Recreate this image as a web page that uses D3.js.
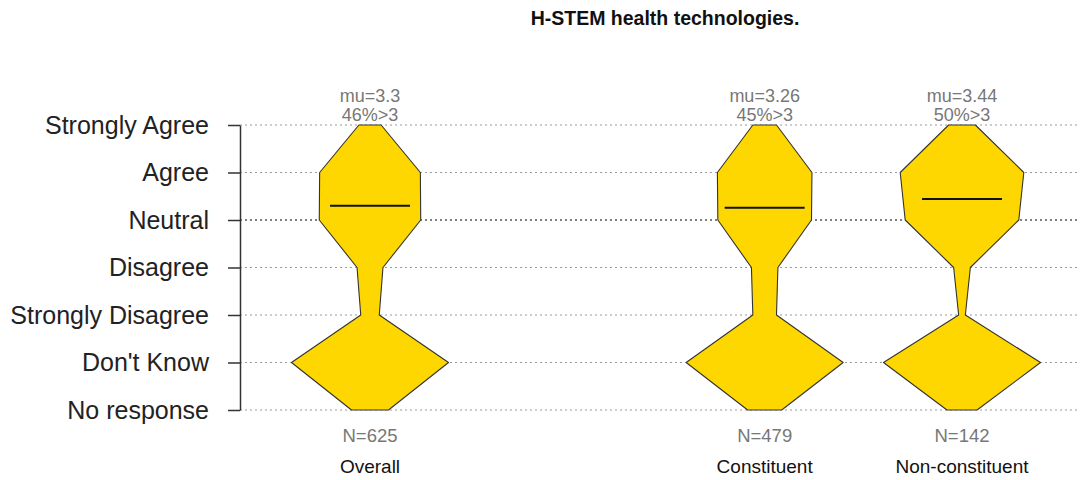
<!DOCTYPE html>
<html>
<head>
<meta charset="utf-8">
<script src="https://cdn.jsdelivr.net/npm/d3@7"></script>
<style>
  body { margin: 0; background: #fff; }
  svg text { font-family: "Liberation Sans", Arial, sans-serif; }
</style>
</head>
<body>
<div id="chart"></div>
<script>
// answer levels, top to bottom, with the numeric code used on the y scale
var levels = ["Strongly Agree", "Agree", "Neutral", "Disagree", "Strongly Disagree", "Don't Know", "No response"];
var levelCodes = [5, 4, 3, 2, 1, 0, -1];

// groups (an empty slot sits between Overall and Constituent)
var slots = ["Overall", "", "Constituent", "Non-constituent"];
var groups = ["Overall", "Constituent", "Non-constituent"];

// response counts per group, in the order of levels
var countsOverall = [30, 136, 137, 35, 25, 212, 50];
var countsConstituent = [25, 100, 99, 28, 25, 166, 36];
var countsNonConstituent = [8, 37, 34, 5, 2, 47, 9];

var means = [3.3, 3.26, 3.44];
var pctAbove = ["46%", "45%", "50%"];
var totals = [625, 479, 142];

var allCounts = [countsOverall, countsConstituent, countsNonConstituent];

var width = 1082, height = 480;

var svg = d3.select("#chart").append("svg")
    .attr("width", width)
    .attr("height", height);

// Scales
var y = d3.scaleLinear()
    .domain([-1, 5])
    .range([410, 125]);

var x = d3.scalePoint()
    .domain(slots)
    .range([370, 962]);

// Title
svg.append("text")
    .attr("x", 665)
    .attr("y", 25)
    .attr("text-anchor", "middle")
    .style("font-weight", "bold")
    .style("font-size", "19.5px")
    .attr("fill", "#111")
    .text("H-STEM health technologies.");

// Dotted grid lines
svg.append("g")
    .selectAll("line")
    .data(levelCodes)
    .enter().append("line")
    .attr("x1", 240)
    .attr("x2", 1080)
    .attr("y1", function (d) { return y(d); })
    .attr("y2", function (d) { return y(d); })
    .attr("stroke", function (d) { return d === 3 ? "#555" : "#999"; })
    .attr("stroke-width", function (d) { return d === 3 ? 1.6 : 1.1; })
    .attr("stroke-dasharray", "2,3");

// Y axis
var yAxis = svg.append("g")
    .attr("transform", "translate(240,0)")
    .call(d3.axisLeft(y)
        .tickValues(levelCodes)
        .tickSize(12)
        .tickSizeOuter(0)
        .tickPadding(19)
        .tickFormat(function (d, i) { return levels[i]; }));

yAxis.select(".domain").attr("stroke", "#333").attr("stroke-width", 1.5);
yAxis.selectAll(".tick line").attr("stroke", "#333").attr("stroke-width", 1.5);
yAxis.selectAll(".tick text")
    .style("font-size", "25px")
    .attr("fill", "#222");

// Violins
var line = d3.line();

groups.forEach(function (g, gi) {
    var counts = allCounts[gi];
    var cx = x(g);
    var w = d3.scaleLinear()
        .domain([0, d3.max(counts)])
        .range([0, 78.5]);

    // right side bottom -> top, left side top -> bottom
    var pts = [];
    for (var i = levels.length - 1; i >= 0; i--) {
        pts.push([cx + w(counts[i]), y(levelCodes[i])]);
    }
    for (var j = 0; j < levels.length; j++) {
        pts.push([cx - w(counts[j]), y(levelCodes[j])]);
    }

    svg.append("path")
        .attr("d", line(pts) + "Z")
        .attr("fill", "#FFD700")
        .attr("stroke", "#333")
        .attr("stroke-width", 1.1)
        .attr("stroke-linejoin", "round");

    // mean line
    svg.append("line")
        .attr("x1", cx - 40)
        .attr("x2", cx + 40)
        .attr("y1", y(means[gi]))
        .attr("y2", y(means[gi]))
        .attr("stroke", "#111")
        .attr("stroke-width", 2);

    // annotations above
    svg.append("text")
        .attr("x", cx)
        .attr("y", 102)
        .attr("text-anchor", "middle")
        .style("font-size", "18px")
        .attr("fill", "#777")
        .text("mu=" + means[gi]);

    svg.append("text")
        .attr("x", cx)
        .attr("y", 121)
        .attr("text-anchor", "middle")
        .style("font-size", "18px")
        .attr("fill", "#777")
        .text(pctAbove[gi] + ">3");

    // N and group label below
    svg.append("text")
        .attr("x", cx)
        .attr("y", 442)
        .attr("text-anchor", "middle")
        .style("font-size", "18.5px")
        .attr("fill", "#777")
        .text("N=" + totals[gi]);

    svg.append("text")
        .attr("x", cx)
        .attr("y", 473)
        .attr("text-anchor", "middle")
        .style("font-size", "19px")
        .attr("fill", "#111")
        .text(g);
});
</script>
</body>
</html>
